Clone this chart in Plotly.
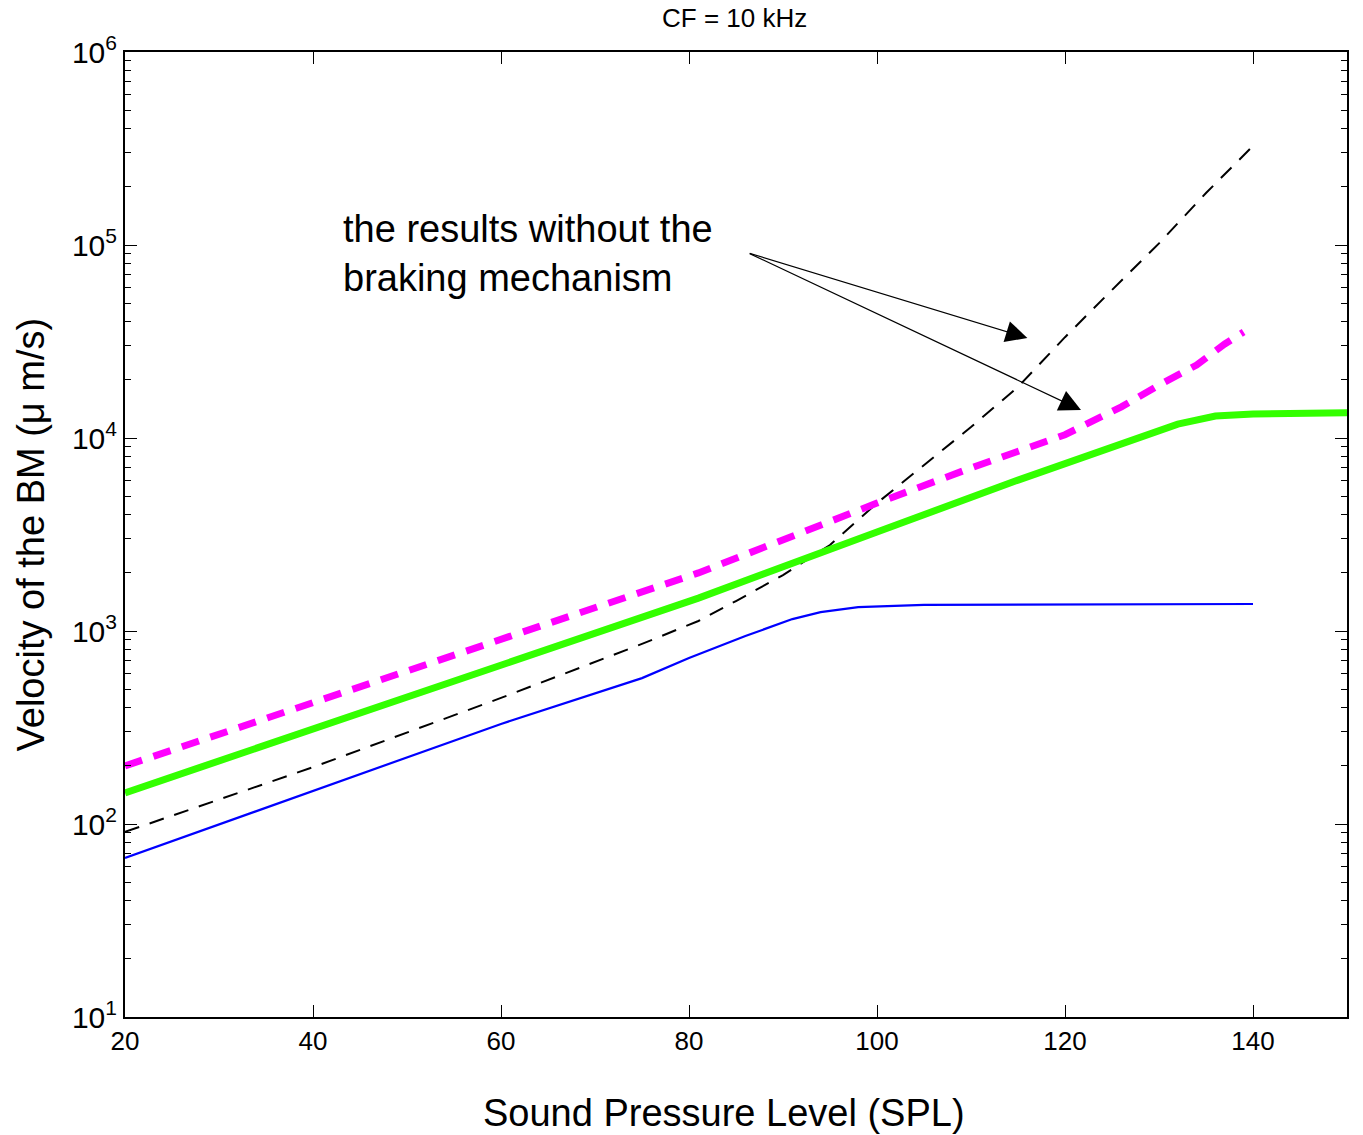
import plotly.graph_objects as go

# ---- data ----
spl_blue = [20, 40, 60, 75, 80, 86, 91, 94, 98, 105, 120, 140]
vel_blue = [66.7, 148, 330, 570, 724, 942, 1153, 1253, 1330, 1365, 1375, 1380]

spl_green = [20, 60, 81, 100, 115, 132, 136, 140, 150]
vel_green = [145, 662, 1480, 3260, 6050, 11800, 13000, 13300, 13500]

spl_magenta = [20, 60, 81, 100, 110, 120, 126, 130, 134, 137, 139]
vel_magenta = [200, 897, 2000, 4600, 7000, 10400, 14500, 18800, 23900, 30700, 35400]

spl_black = [20, 40, 60, 75, 81, 85, 90, 95, 100, 105, 110, 115, 120, 125, 130, 135, 140]
vel_black = [91, 197, 450, 857, 1127, 1430, 1950, 2790, 4600, 7240, 11400, 18400,
             33300, 58500, 102000, 186000, 326000]

x_ticks = [20, 40, 60, 80, 100, 120, 140]
y_ticks = [1e1, 1e2, 1e3, 1e4, 1e5, 1e6]
y_ticktext = ["10<sup>1</sup>", "10<sup>2</sup>", "10<sup>3</sup>",
              "10<sup>4</sup>", "10<sup>5</sup>", "10<sup>6</sup>"]
y_minor = [m * 10 ** e for e in range(1, 6) for m in range(2, 10)]

annot_text = "the results without the<br>braking mechanism"
arrow_tail = (86.3, 4.959)
arrow_heads = [(116.0, 4.518), (121.7, 4.145)]

FONT = "Arial, Liberation Sans, sans-serif"

fig = go.Figure()
fig.add_trace(go.Scatter(x=spl_blue, y=vel_blue, mode="lines",
                         line=dict(color="#0000ff", width=2.2), showlegend=False))
fig.add_trace(go.Scatter(x=spl_black, y=vel_black, mode="lines",
                         line=dict(color="black", width=2, dash="15px,11px"), showlegend=False))
fig.add_trace(go.Scatter(x=spl_green, y=vel_green, mode="lines",
                         line=dict(color="#33ff00", width=7), showlegend=False))
fig.add_trace(go.Scatter(x=spl_magenta, y=vel_magenta, mode="lines",
                         line=dict(color="#ff00ff", width=7, dash="18px,12px"), showlegend=False))

for hx, hy in arrow_heads:
    fig.add_annotation(x=hx, y=hy, xref="x", yref="y", ax=arrow_tail[0], ay=arrow_tail[1],
                       axref="x", ayref="y", showarrow=True, arrowhead=2, arrowsize=3.6,
                       arrowwidth=1.2, arrowcolor="black", text="")

fig.add_annotation(text=annot_text, xref="paper", yref="paper", x=0.1768, y=0.7907,
                   xanchor="left", yanchor="middle", align="left", showarrow=False,
                   font=dict(family=FONT, size=38, color="black"))

fig.add_annotation(text="CF = 10 kHz", xref="paper", yref="paper", x=(734 - 125) / 1222, y=1,
                   yshift=34, xanchor="center", yanchor="middle", showarrow=False,
                   font=dict(family=FONT, size=26, color="black"))
fig.add_annotation(text="Sound Pressure Level (SPL)", xref="paper", yref="paper",
                   x=(724 - 125) / 1222, y=0, yshift=-96, xanchor="center", yanchor="middle",
                   showarrow=False, font=dict(family=FONT, size=38, color="black"))
fig.add_annotation(text="Velocity of the BM (\u03bc m/s)", xref="paper", yref="paper",
                   x=0, xshift=-95, y=0.5, xanchor="center", yanchor="middle", textangle=-90,
                   showarrow=False, font=dict(family=FONT, size=38, color="black"))

# page body adds an 8px offset; compensate so the plot area lands at 125..1347 x 52..1017
fig.update_layout(
    width=1355, height=1127,
    margin=dict(l=117, r=16, t=44, b=118),
    paper_bgcolor="white", plot_bgcolor="white",
    font=dict(family=FONT, size=26, color="black"),
    showlegend=False,
)
fig.update_xaxes(range=[20, 150], tickvals=x_ticks, ticks="inside", ticklen=12,
                 tickwidth=1.2, tickcolor="black", showline=True, linecolor="black",
                 linewidth=2, mirror="ticks", showgrid=False, zeroline=False,
                 tickfont=dict(size=26))
fig.update_yaxes(type="log", range=[1, 6], tickvals=y_ticks, ticktext=y_ticktext,
                 ticks="inside", ticklen=12, tickwidth=1.2, tickcolor="black",
                 showline=True, linecolor="black", linewidth=2, mirror="ticks",
                 showgrid=False, zeroline=False, tickfont=dict(size=30),
                 minor=dict(tickvals=y_minor, ticks="inside", ticklen=6,
                            tickcolor="black", tickwidth=1, showgrid=False))

fig.write_html("out.html")
